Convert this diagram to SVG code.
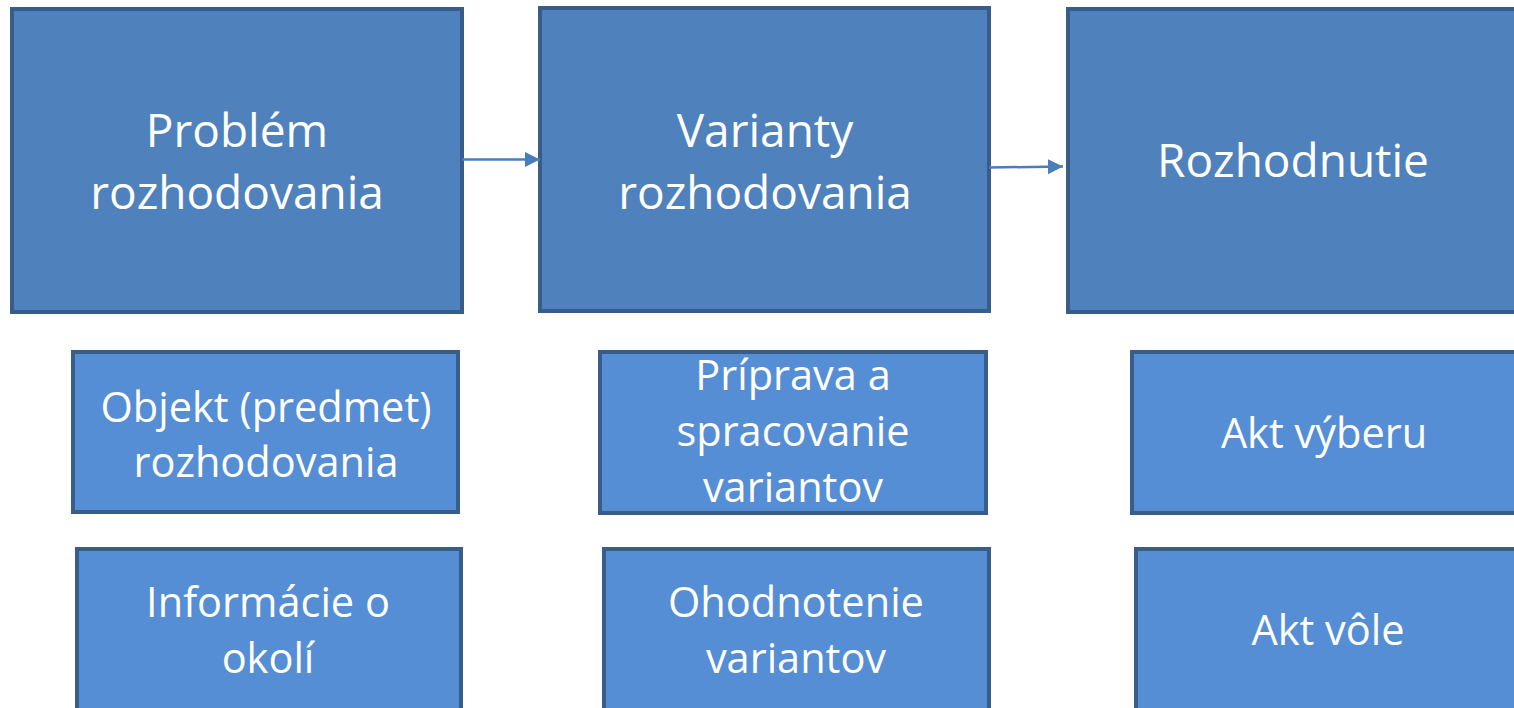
<svg xmlns="http://www.w3.org/2000/svg" width="1514" height="708" viewBox="0 0 1514 708">
<style>
.top{fill:#4F81BD;stroke:#385D8A;stroke-width:4}
.sub{fill:#558ED5;stroke:#385D8A;stroke-width:4}
.t{font-family:"Open Sans","Noto Sans","Liberation Sans",sans-serif;fill:#fff;text-anchor:middle}
.big{font-size:46px}
.sm{font-size:41.5px}
.con{stroke:#4A7EBB;stroke-width:2.5;fill:none}
</style>
<defs>
<marker id="ah" markerWidth="16" markerHeight="16" refX="15" refY="7.5" orient="auto" markerUnits="userSpaceOnUse">
<path d="M0,0 L15,7.5 L0,15 Z" fill="#4A7EBB"/>
</marker>
</defs>
<rect width="1514" height="708" fill="#fff"/>
<g id="n1"><rect class="top" x="12" y="9" width="450" height="303"/>
<text class="t big" x="237" y="147">Problém</text><text class="t big" x="237" y="209">rozhodovania</text></g>
<g id="n2"><rect class="top" x="540" y="8" width="449" height="303"/>
<text class="t big" x="765" y="147">Varianty</text><text class="t big" x="765" y="209">rozhodovania</text></g>
<g id="n3"><rect class="top" x="1068" y="9" width="460" height="303"/>
<text class="t big" x="1293" y="177">Rozhodnutie</text></g>
<g id="n4"><rect class="sub" x="73" y="352" width="385" height="160"/>
<text class="t sm" x="266" y="422">Objekt (predmet)</text><text class="t sm" x="266" y="477">rozhodovania</text></g>
<g id="n5"><rect class="sub" x="600" y="352" width="386" height="161"/>
<text class="t sm" x="793" y="390">Príprava a</text><text class="t sm" x="793" y="446">spracovanie</text><text class="t sm" x="793" y="502">variantov</text></g>
<g id="n6"><rect class="sub" x="1132" y="352" width="400" height="161"/>
<text class="t sm" x="1324" y="448">Akt výberu</text></g>
<g id="n7"><rect class="sub" x="77" y="549" width="384" height="180"/>
<text class="t sm" x="268" y="617">Informácie o</text><text class="t sm" x="268" y="673">okolí</text></g>
<g id="n8"><rect class="sub" x="604" y="549" width="385" height="180"/>
<text class="t sm" x="796" y="617">Ohodnotenie</text><text class="t sm" x="796" y="673">variantov</text></g>
<g id="n9"><rect class="sub" x="1136" y="549" width="400" height="180"/>
<text class="t sm" x="1328" y="645">Akt vôle</text></g>
<g id="connectors">
<line class="con" x1="462" y1="159.5" x2="540" y2="159.5" marker-end="url(#ah)"/>
<line class="con" x1="989" y1="167.5" x2="1063" y2="166.5" marker-end="url(#ah)"/>
</g>
</svg>
